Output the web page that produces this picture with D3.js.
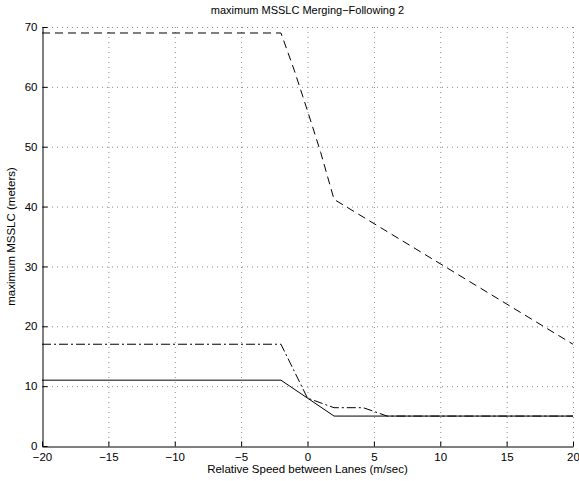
<!DOCTYPE html>
<html><head><meta charset="utf-8">
<script src="https://cdn.jsdelivr.net/npm/d3@7"></script>
<style>
body{margin:0;background:#fff;}
text{font-family:"Liberation Sans",Arial,sans-serif;}
</style></head>
<body>
<svg id="c" width="579" height="481"></svg>
<script>
const xTicks = [-20,-15,-10,-5,0,5,10,15,20];
const yTicks = [0,10,20,30,40,50,60,70];
const dashedX = [-20,-2,-1,0,1,2,20];
const dashedY = [69,69,62.8,56,49,41.2,17];
const dashdotX = [-20,-2,0,2,4.2,6,20];
const dashdotY = [17,17,8,6.4,6.4,5,5];
const solidX = [-20,-2,2,20];
const solidY = [11,11,5,5];
const title = "maximum MSSLC Merging\u2212Following 2";
const xLabel = "Relative Speed between Lanes (m/sec)";
const yLabel = "maximum MSSLC (meters)";

const svg = d3.select("#c");
const L=42, R=573, T=27, B=446;
const x = d3.scaleLinear().domain([-20,20]).range([L,R]);
const y = d3.scaleLinear().domain([0,70]).range([B,T]);

// grid
const g = svg.append("g");
g.selectAll("line.vx").data(xTicks.filter(d=>d!==-20)).enter().append("line")
 .attr("x1",d=>x(d)+0.5).attr("x2",d=>x(d)+0.5).attr("y1",T).attr("y2",B)
 .attr("stroke","#8a8a8a").attr("stroke-width",1).attr("stroke-dasharray","1,4");
g.selectAll("line.hy").data(yTicks.filter(d=>d!==0)).enter().append("line")
 .attr("y1",d=>y(d)+0.5).attr("y2",d=>y(d)+0.5).attr("x1",L).attr("x2",R)
 .attr("stroke","#8a8a8a").attr("stroke-width",1).attr("stroke-dasharray","1,4");

// axes
const fmt = d=> d<0 ? "\u2212"+Math.abs(d) : String(d);
const xa = svg.append("g").attr("transform",`translate(0,${B+0.5})`)
 .call(d3.axisBottom(x).tickValues(xTicks).tickFormat(fmt).tickSizeInner(-5).tickSizeOuter(0).tickPadding(6));
const ya = svg.append("g").attr("transform",`translate(${L+0.5},0)`)
 .call(d3.axisLeft(y).tickValues(yTicks).tickFormat(fmt).tickSizeInner(-5).tickSizeOuter(0).tickPadding(5));
[xa,ya].forEach(a=>{
  a.selectAll("path").attr("stroke","#000");
  a.selectAll("line").attr("stroke","#000");
  a.selectAll("text").attr("font-size","11.5px").attr("fill","#000")
   .attr("font-family","'Liberation Sans',Arial,sans-serif");
});

// lines
const line = d3.line().x(d=>x(d[0])).y(d=>y(d[1]));
function draw(xs,ys,dash){
  svg.append("path").datum(xs.map((v,i)=>[v,ys[i]]))
   .attr("d",line).attr("fill","none").attr("stroke","#000").attr("stroke-width",1)
   .attr("stroke-dasharray",dash);
}
draw(dashedX,dashedY,"8,5");
draw(dashdotX,dashdotY,"9,3,2,3");
draw(solidX,solidY,null);

// labels
svg.append("text").attr("x",(L+R)/2).attr("y",14).attr("text-anchor","middle")
 .attr("font-size","11px").text(title);
svg.append("text").attr("x",(L+R)/2).attr("y",473).attr("text-anchor","middle")
 .attr("font-size","11.5px").text(xLabel);
svg.append("text").attr("transform",`translate(15,${(T+B)/2}) rotate(-90)`).attr("text-anchor","middle")
 .attr("font-size","11.5px").text(yLabel);
</script>
</body></html>
